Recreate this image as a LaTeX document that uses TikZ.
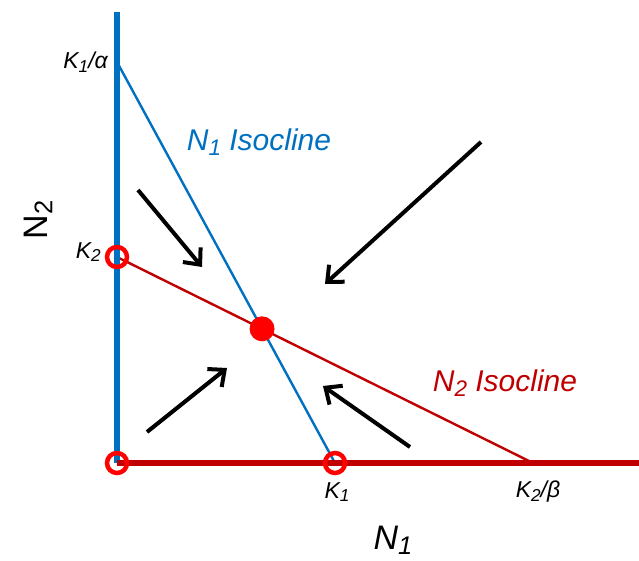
\documentclass[tikz,border=0pt]{standalone}
\usepackage{fontspec}
\setmainfont{Liberation Sans}
\usepackage{tikz}
\usetikzlibrary{arrows.meta}

\definecolor{isoblue}{RGB}{0,112,192}
\definecolor{isored}{RGB}{192,0,0}
\definecolor{eqred}{RGB}{255,0,0}
\newcommand\lsub[1]{\raisebox{-0.3ex}{\scalebox{0.75}{#1}}}

\begin{document}
\begin{tikzpicture}[
  x=1pt,y=-1pt,
  axisN1/.style ={isored,line width=6pt},
  axisN2/.style ={isoblue,line width=6pt},
  iso1/.style   ={isoblue,line width=2.4pt},
  iso2/.style   ={isored,line width=2.4pt},
  flow/.style   ={-{Straight Barb[length=13pt,width=23pt,line width=4pt]},line width=4pt,black},
  open/.style   ={circle,draw=eqred,line width=4.5pt,fill=none,minimum size=20pt,inner sep=0pt},
  stable/.style ={circle,fill=eqred,minimum size=25pt,inner sep=0pt},
  lbl/.style    ={font=\fontsize{23}{26}\selectfont\itshape,inner sep=0pt},
  isolbl/.style ={font=\fontsize{30}{34}\selectfont\itshape,inner sep=0pt},
  axlbl/.style  ={font=\fontsize{34}{40}\selectfont,inner sep=0pt}
]
\useasboundingbox (0,0) rectangle (639,561);

%% Key points on the axes
\coordinate (O)   at (117,463);
\coordinate (top) at (117,12);
\coordinate (rgt) at (639,463);
\coordinate (k1a) at (117,62);
\coordinate (k2)  at (117,257);
\coordinate (k1)  at (335,463);
\coordinate (k2b) at (533,463);

%% Isoclines
\draw[iso1] (k1a) -- (k1);
\draw[iso2] (k2) -- (k2b);

%% Axes
\draw[axisN2] (O) -- (top);
\draw[axisN1] (O) -- (rgt);

%% Equilibria
\node[open]   (e0)  at (O)  {};
\node[open]   (e2)  at (k2) {};
\node[open]   (e1)  at (k1) {};
\node[stable] (eq)  at (intersection of k1a--k1 and k2--k2b) {};

%% Axis labels
\node[lbl,anchor=east] (lk1a) at (108,62)  {K\lsub{1}/α};
\node[lbl,anchor=east] (lk2)  at (101,252) {K\lsub{2}};
\node[lbl]             (lk1)  at (337,492) {K\lsub{1}};
\node[lbl]             (lk2b) at (538,492) {K\lsub{2}/β};
\node[axlbl,font=\fontsize{34}{40}\selectfont\itshape,anchor=base] (n1) at (393,549) {N\lsub{1}};
\node[axlbl,rotate=90] (n2) at (38,220) {N\lsub{2}};

%% Isocline labels
\node[isolbl,isoblue] (l1) at (259,142) {N\lsub{1} Isocline};
\node[isolbl,isored]  (l2) at (505,383) {N\lsub{2} Isocline};

%% Flow arrows
\coordinate (a1s) at (138,190); \coordinate (a1e) at (202,267);
\coordinate (a2s) at (481,142); \coordinate (a2e) at (325,284);
\coordinate (a3s) at (147,432); \coordinate (a3e) at (227,368);
\coordinate (a4s) at (410,447); \coordinate (a4e) at (323,386);
\draw[flow] (a1s) -- (a1e);
\draw[flow] (a2s) -- (a2e);
\draw[flow] (a3s) -- (a3e);
\draw[flow] (a4s) -- (a4e);
\end{tikzpicture}
\end{document}
